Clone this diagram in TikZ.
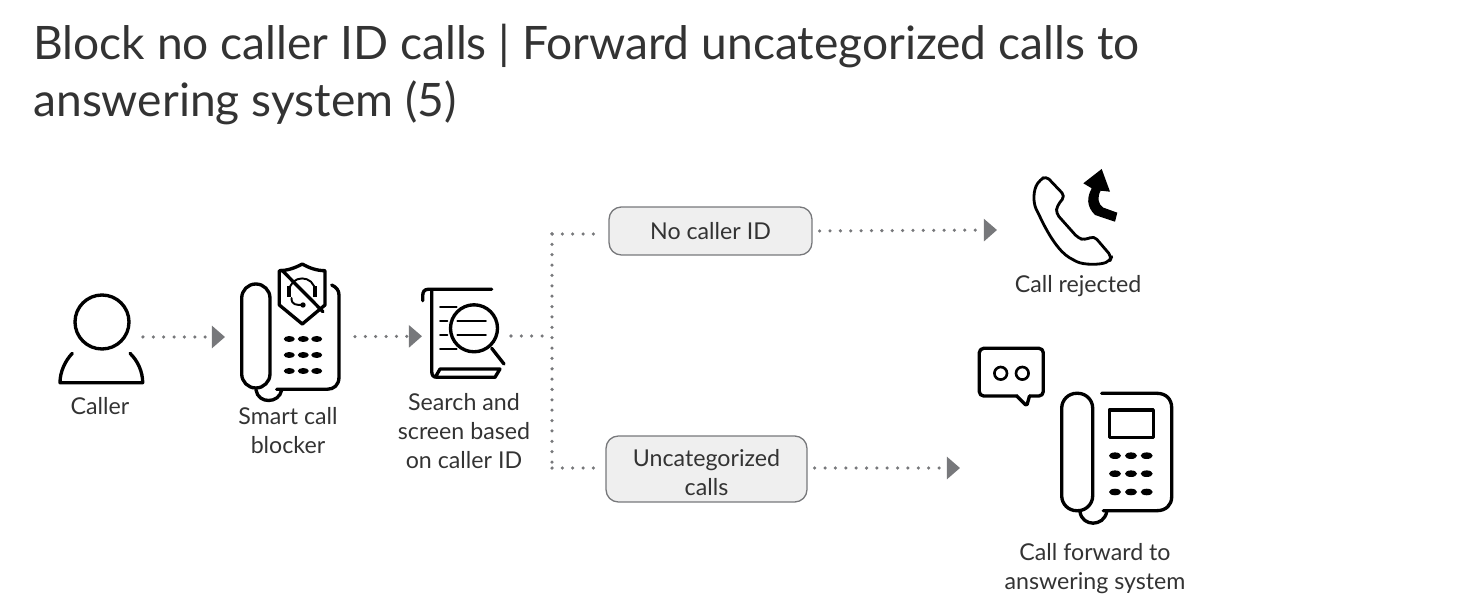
\documentclass[tikz,border=0pt]{standalone}
\usepackage{fontspec}
\setmainfont{Lato}
\usetikzlibrary{calc, arrows.meta}
\definecolor{dotgray}{HTML}{77787B}
\definecolor{inkgray}{HTML}{333333}
\definecolor{boxgray}{HTML}{EFEFEF}
\tikzset{
    icon/.style={line width=1.9pt, black, line cap=round, line join=round},
    thinicon/.style={line width=1.1pt, black, line cap=round, line join=round},
    anchorbox/.style={inner sep=0pt, outer sep=0pt, minimum height=0.5cm},
    label/.style={text=inkgray, font=\fontsize{13.2}{16.5}\selectfont, align=center, inner sep=0pt},
    choice/.style={draw=dotgray, fill=boxgray, line width=0.75pt, rounded corners=7pt, inner sep=0pt, text=inkgray, font=\fontsize{13.2}{16.5}\selectfont, align=center},
    dotline/.style={dotgray, line width=2pt, line cap=round, dash pattern=on 0pt off 5.9pt},
    dotarrow/.style={dotline, -{Triangle[length=7.5pt,width=12.5pt]}},
}
\begin{document}
\begin{tikzpicture}[x=0.02cm,y=-0.02cm]
    \useasboundingbox (0,0) rectangle (1474,594);
    \node[anchor=north west, text=inkgray, font=\fontsize{26.25}{32.4}\selectfont, align=left, inner sep=0pt] (title) at (33,23.5) {Block no caller ID calls | Forward uncategorized calls to\\answering system (5)};

    \node[anchorbox, minimum width=1.68cm] (caller) at (101,337) {};
    \node[anchorbox, minimum width=2.6cm] (blocker) at (290,337) {};
    \node[anchorbox, minimum width=1.78cm] (search) at (466.5,336) {};
    \coordinate (split) at (552,336);
    \coordinate (topbend) at (552,234);
    \coordinate (botbend) at (552,468);
    \node[choice, minimum width=4.06cm, minimum height=0.96cm] (nocaller) at (710.5,231) {No caller ID};
    \node[choice, minimum width=4.02cm, minimum height=1.32cm] (uncat) at (706.5,469) {\rule{0pt}{13.6pt}Uncategorized\\calls};
    \node[anchorbox, minimum width=1cm, anchor=west] (rejected) at (997,230) {};
    \node[anchorbox, minimum width=1cm, anchor=west] (forward) at (960,468) {};

    \node[label] (callerlabel) at (100,406) {Caller};
    \node[label] (blockerlabel) at (288,431) {Smart call\\blocker};
    \node[label] (searchlabel) at (464,431) {Search and\\screen based\\on caller ID};
    \node[label] (rejectedlabel) at (1078,286) {Call rejected};
    \node[label] (forwardlabel) at (1095,568.5) {Call forward to\\answering system};

    \draw[dotarrow] (caller) -- (blocker);
    \draw[dotarrow] (blocker) -- (search);
    \draw[dotline] (search) -- (split);
    \draw[dotline] (topbend) -- (botbend);
    \draw[dotline, shorten >=6pt] (topbend) -- (topbend -| nocaller.west);
    \draw[dotline, shorten >=2pt] (botbend) -- (botbend -| uncat.west);
    \draw[dotarrow, shorten <=4pt] (nocaller.east) -- (rejected.west);
    \draw[dotarrow, shorten <=4pt] (uncat.east |- forward) -- (forward.west);

    \draw[icon] (102,322) circle (27);
    \draw[icon] (72.3,353.3) .. controls (65,361) and (60,372) .. (60,382.7) -- (142.7,382.7) .. controls (142.7,372) and (138,361) .. (130,353.3);

    \draw[icon, rounded corners=8pt] (241.7,284) rectangle (270,388);
    \draw[icon] (331.7,285) .. controls (336,287) and (339,290) .. (339,295) -- (339,377) .. controls (339,385) and (334,389.3) .. (327,389.3) -- (276.7,389.3);
    \draw[icon] (256,390) .. controls (258,404) and (279,404) .. (281.7,390);
    \draw[icon] (302.3,264) .. controls (295,268) and (287,270.7) .. (279.3,270.7) -- (279.3,305) -- (302.3,324) -- (325,305) -- (325,270.7) .. controls (317,270.7) and (309,268) .. (302.3,264) -- cycle;
    \draw[icon] (281.7,270) -- (323,311.7);
    \draw[thinicon] (289.3,291.7) .. controls (289.3,274) and (315,274) .. (315,291.7);
    \draw[thinicon] (291.5,298) .. controls (291.5,305) and (296,305) .. (303,305);
    \fill (286.8,286.5) rectangle (291,297);
    \fill (312.8,286.5) rectangle (317,297);
    \fill (303,305) circle (2.7);
    \foreach \i in {289.3,303.3,316.7}{
        \foreach \j in {339,355,371}{
            \fill (\i,\j) ellipse (5.5 and 3);
        }
    }

    \draw[icon] (491.7,289.3) -- (428.3,289.3) .. controls (424,289.3) and (422.7,292) .. (422.7,296) -- (422.7,300.7);
    \draw[icon] (431.7,290) -- (431.7,371) .. controls (431.7,375) and (433,377.3) .. (437,377.3) -- (495,377.3) -- (500,369) -- (440,369) -- (436,376);
    \draw[icon] (474,328.3) circle (23.5);
    \draw[icon] (491.7,348.3) -- (504,364);
    \draw[thinicon] (457.3,321) -- (486,321);
    \draw[thinicon] (457.3,335) -- (486,335);
    \draw[thinicon] (440,306.7) -- (456.7,306.7);
    \draw[thinicon] (440,321) -- (447.3,321);
    \draw[thinicon] (440,335) -- (447.3,335);
    \draw[thinicon] (440,349.3) -- (456.7,349.3);

    \draw[icon, line width=1.6pt, rounded corners=2.5pt] (1046,176) -- (1065,196) -- (1057,206) -- (1056,213.3) -- (1078.3,238.3) -- (1085,240) -- (1094,236) -- (1111.7,256.7) -- (1110,260.7) .. controls (1100,265) and (1084,265) .. (1073.3,260) .. controls (1060,252) and (1050,238) .. (1038.3,213.3) .. controls (1033,203) and (1033,190) .. (1040,180) -- cycle;
    \fill (1101.7,169) -- (1083.3,183.3) -- (1091.7,188.3) .. controls (1087,197) and (1086,206) .. (1095,215) -- (1115,221.7) -- (1117.3,212.7) -- (1103,207.5) .. controls (1098,204) and (1097,197) .. (1100.7,190.7) -- (1110,191.7) -- cycle;

    \draw[icon, rounded corners=2.5pt] (979.3,348.3) rectangle (1043.3,396);
    \fill[white] (1018,394) rectangle (1029,398);
    \draw[icon, rounded corners=1pt] (1016.7,396) -- (1026.7,406) -- (1029.5,396);
    \draw[thinicon, line width=1.5pt] (1000.7,373.3) circle (6.3);
    \draw[thinicon, line width=1.5pt] (1022.3,373.3) circle (6.3);

    \draw[icon, rounded corners=8.5pt] (1061.7,393.3) rectangle (1092.7,510.7);
    \draw[icon] (1101.7,393.3) -- (1156.7,393.3) .. controls (1166,393.3) and (1171.7,399) .. (1171.7,408) -- (1171.7,496.7) .. controls (1171.7,505) and (1166,510.7) .. (1156.7,510.7) -- (1103.3,510.7);
    \draw[icon] (1080,511.7) .. controls (1082,527) and (1104,527) .. (1106.7,511.7);
    \draw[icon] (1109.3,410) rectangle (1153.3,437.3);
    \foreach \i in {1115,1131,1146.7}{
        \foreach \j in {455.7,473.7,492}{
            \fill (\i,\j) ellipse (6 and 3.3);
        }
    }
\end{tikzpicture}
\end{document}
